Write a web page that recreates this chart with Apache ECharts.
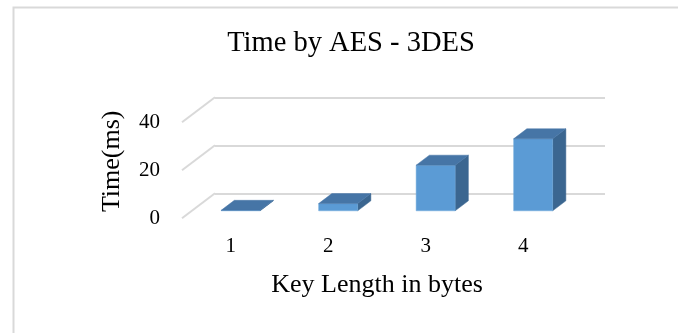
<!DOCTYPE html>
<html>
<head>
<meta charset="utf-8">
<style>
  html, body { margin: 0; padding: 0; background: #ffffff; }
  #chart { width: 678px; height: 333px; }
</style>
<script src="https://cdn.jsdelivr.net/npm/echarts@6/dist/echarts.min.js"></script>
</head>
<body>
<div id="chart"></div>
<script>
// Category labels along the floor (key length)
const keyLengths = ['1', '2', '3', '4'];
// Encryption time for each key length, in milliseconds
const aesTimeMs = [0.2, 3, 19, 30];
// Value axis range and tick step
const timeMin = 0;
const timeMax = 40;
const timeStep = 20;
// Tick values that get a floor guide line
const timeTicks = [0, 20, 40];

// Pseudo-3D geometry: offset from the back wall to the front floor edge
const DEPTH_X = 33;
const DEPTH_Y = 25;
const FRONT_AT = 0.7;   // front face of a column, as a share of the depth
const COL_DEPTH = 0.4;  // column depth, as a share of the depth
const COL_WIDTH = 0.4;  // column width, as a share of the band

const FONT = 'Liberation Serif';
const GRID_COLOR = '#d9d9d9';
const FRONT_COLOR = '#5b9bd5';
const TOP_COLOR = '#4675a6';
const SIDE_COLOR = '#3b6690';

const chart = echarts.init(document.getElementById('chart'), null, { renderer: 'canvas' });

// Back wall grid (holds columns and gridlines)
const backGrid = { left: 215, right: 73, top: 97.3, bottom: 139.7 };
// Front floor edge grid (holds the tick labels and axis names)
const frontGrid = {
  left: backGrid.left - DEPTH_X,
  right: backGrid.right + DEPTH_X,
  top: backGrid.top + DEPTH_Y,
  bottom: backGrid.bottom - DEPTH_Y
};

function renderColumn(params, api) {
  const idx = api.value(0);
  const v = api.value(1);
  const base = api.coord([idx, 0]);
  const top = api.coord([idx, v]);
  const band = api.size([1, 0])[0];
  const half = band * COL_WIDTH / 2;
  const fx = -DEPTH_X * FRONT_AT;
  const fy = DEPTH_Y * FRONT_AT;
  const bx = DEPTH_X * COL_DEPTH;
  const by = -DEPTH_Y * COL_DEPTH;
  const x0 = base[0] + fx - half;
  const x1 = base[0] + fx + half;
  const yb = base[1] + fy;
  const yt = top[1] + fy;
  return {
    type: 'group',
    children: [
      {
        type: 'polygon',
        shape: { points: [[x1, yt], [x1, yb], [x1 + bx, yb + by], [x1 + bx, yt + by]] },
        style: { fill: SIDE_COLOR, stroke: SIDE_COLOR, lineWidth: 0.5 }
      },
      {
        type: 'rect',
        shape: { x: x0, y: yt, width: x1 - x0, height: Math.max(yb - yt, 0) },
        style: { fill: FRONT_COLOR, stroke: '#6fa8dc', lineWidth: 0.5 }
      },
      {
        type: 'polygon',
        shape: { points: [[x0, yt], [x1, yt], [x1 + bx, yt + by], [x0 + bx, yt + by]] },
        style: { fill: TOP_COLOR, stroke: TOP_COLOR, lineWidth: 0.5 }
      }
    ]
  };
}

function renderFloorGuide(params, api) {
  const p = api.coord([0, api.value(1)]);
  const band = api.size([1, 0])[0];
  const left = p[0] - band / 2;
  return {
    type: 'line',
    shape: { x1: left, y1: p[1], x2: left - DEPTH_X, y2: p[1] + DEPTH_Y },
    style: { stroke: GRID_COLOR, lineWidth: 2 }
  };
}

const option = {
  backgroundColor: '#ffffff',
  animation: false,
  title: {
    text: 'Time by AES - 3DES',
    left: 346,
    top: 24,
    textAlign: 'center',
    textStyle: { fontFamily: FONT, fontSize: 28.5, fontWeight: 'normal', color: '#000000' }
  },
  graphic: [
    {
      type: 'rect',
      left: 11,
      top: 5,
      shape: { width: 720, height: 400 },
      style: { fill: 'none', stroke: GRID_COLOR, lineWidth: 2 },
      silent: true,
      z: -1
    }
  ],
  grid: [
    Object.assign({ containLabel: false }, backGrid),
    Object.assign({ containLabel: false }, frontGrid)
  ],
  xAxis: [
    {
      gridIndex: 0,
      type: 'category',
      data: keyLengths,
      show: false
    },
    {
      gridIndex: 1,
      type: 'category',
      data: keyLengths,
      axisLine: { show: false },
      axisTick: { show: false },
      axisLabel: { margin: 18, fontFamily: FONT, fontSize: 21, color: '#000000' },
      name: 'Key Length in bytes',
      nameLocation: 'middle',
      nameGap: 54,
      nameTextStyle: { fontFamily: FONT, fontSize: 26, color: '#000000' }
    }
  ],
  yAxis: [
    {
      gridIndex: 0,
      type: 'value',
      min: timeMin,
      max: timeMax,
      interval: timeStep,
      axisLine: { show: false },
      axisTick: { show: false },
      axisLabel: { show: false },
      splitLine: { show: true, lineStyle: { color: GRID_COLOR, width: 2 } }
    },
    {
      gridIndex: 1,
      type: 'value',
      min: timeMin,
      max: timeMax,
      interval: timeStep,
      axisLine: { show: false },
      axisTick: { show: false },
      splitLine: { show: false },
      axisLabel: { margin: 22, fontFamily: FONT, fontSize: 21, color: '#000000' },
      name: 'Time(ms)',
      nameLocation: 'middle',
      nameGap: 57,
      nameTextStyle: { fontFamily: FONT, fontSize: 26, color: '#000000', padding: [0, 0, 0, 18] }
    }
  ],
  series: [
    {
      type: 'custom',
      name: 'floor guides',
      xAxisIndex: 0,
      yAxisIndex: 0,
      renderItem: renderFloorGuide,
      data: timeTicks.map(function (t) { return [0, t]; }),
      encode: { x: 0, y: 1 },
      silent: true,
      z: 1
    },
    {
      type: 'custom',
      name: 'Time',
      xAxisIndex: 0,
      yAxisIndex: 0,
      renderItem: renderColumn,
      data: aesTimeMs.map(function (v, i) { return [i, v]; }),
      encode: { x: 0, y: 1 },
      z: 3
    }
  ]
};

chart.setOption(option);
</script>
</body>
</html>
